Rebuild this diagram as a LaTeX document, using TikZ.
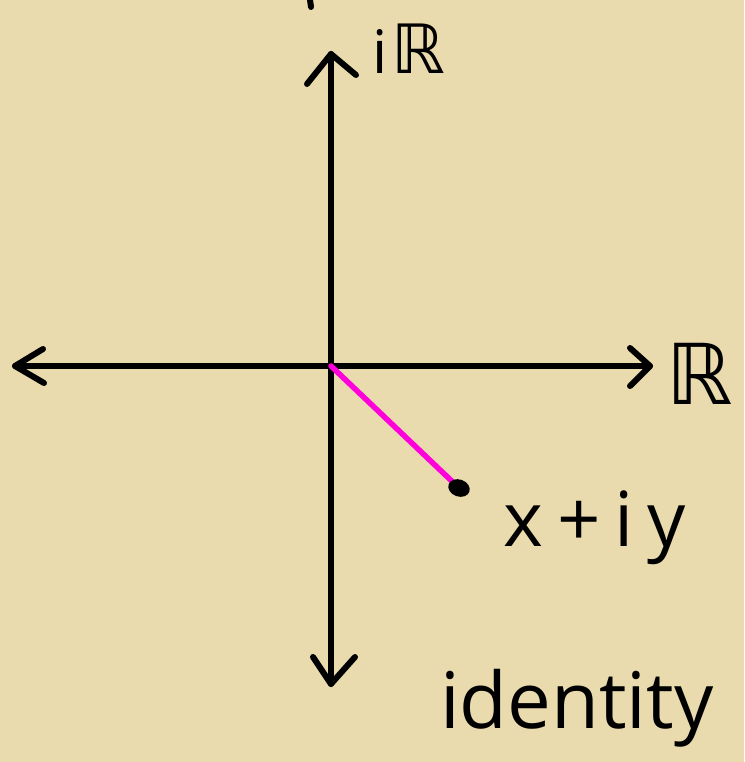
\documentclass[tikz,border=0pt]{standalone}
\usepackage{fontspec}
\setmainfont{Open Sans}
\newfontfamily\dvs{DejaVu Sans}
\definecolor{parch}{RGB}{233,219,173}
\definecolor{pinkline}{RGB}{255,0,220}
\begin{document}
\begin{tikzpicture}[x=1pt,y=-1pt,
  axis/.style={line width=6pt,line cap=round,line join=round,black},
  lbl/.style={inner sep=0pt,text=black}]
\fill[parch] (0,0) rectangle (744,762);
\useasboundingbox (0,0) rectangle (744,762);
\coordinate (O) at (331,366);
\coordinate (T) at (331,54);
\coordinate (B) at (331,684);
\coordinate (L) at (15,366);
\coordinate (Rt) at (650,366);
\coordinate (P) at (459,488);
% axes
\draw[axis] (B) -- (T);
\draw[axis] (L) -- (Rt);
% arrowheads
\draw[axis] (307,84) -- (T) -- (356,75);
\draw[axis] (313,657) -- (B) -- (355,657);
\draw[axis] (43,349) -- (L) -- (44,383);
\draw[axis] (630,348) -- (Rt) -- (630,386);
% cut-off mark at top
\draw[axis] (310,0) -- (311,7);
% magenta segment
\draw[line width=5.5pt,line cap=round,pinkline] (O) -- (P);
\fill[black,rotate around={-20:(P)}] (P) ellipse (11pt and 8.5pt);
% labels
\node[lbl,font=\fontsize{60}{64}\selectfont,anchor=base west] (iR) at (372,74) {i\kern4pt{\dvs\fontsize{68}{72}\selectfont ℝ}};
\node[lbl,font=\dvs\fontsize{84}{88}\selectfont,anchor=base west] (R) at (666,404) {ℝ};
\node[lbl,font=\fontsize{76}{80}\selectfont,anchor=base west] (z) at (503,546) {x\hspace{14pt}+\hspace{14pt}i\hspace{14pt}y};
\node[lbl,font=\fontsize{78}{82}\selectfont,anchor=base west] (id) at (440,728) {identity};
\end{tikzpicture}
\end{document}
